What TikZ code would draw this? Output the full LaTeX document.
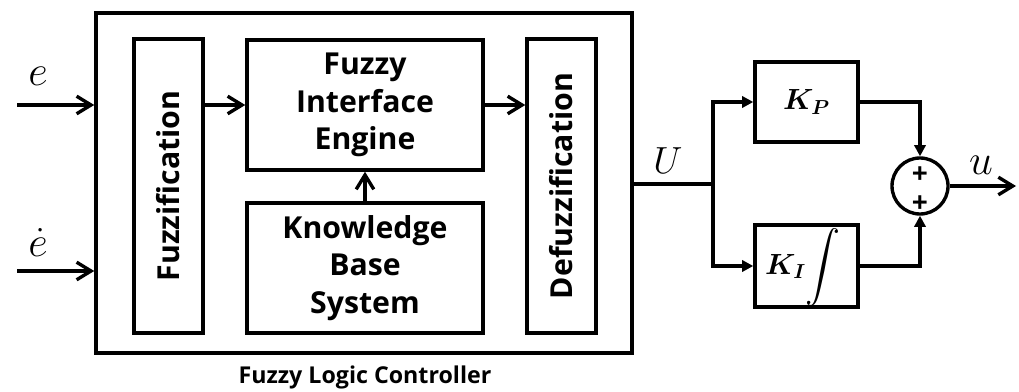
\documentclass[tikz,border=0pt]{standalone}
\usepackage{fontspec}
\usepackage{amsmath,bm}
\setsansfont{Open Sans}
\usetikzlibrary{arrows.meta,positioning}

\newcommand{\sigvar}[1]{\scalebox{1.22}{$#1$}}

\tikzset{
  block/.style={draw, line width=2.4pt, align=center, inner sep=0pt,
    font=\sffamily\bfseries\fontsize{21.5}{26.8}\selectfont},
  gain/.style={draw, line width=2.4pt, minimum width=2.575cm, minimum height=2cm},
  sumnode/.style={draw, circle, line width=2.4pt, minimum size=1.4cm},
  signal/.style={line width=2.4pt, -{Straight Barb[length=3.6mm, width=4.4mm]}},
  feed/.style={line width=2.4pt, -{Triangle[length=2.8mm, width=2.8mm]}},
  var/.style={font=\fontsize{24}{24}\selectfont},
  plus/.style={font=\sffamily\bfseries\fontsize{20}{20}\selectfont, inner sep=0pt}
}

\begin{document}
\begin{tikzpicture}[x=0.025cm, y=-0.025cm]
    \useasboundingbox (0,0) rectangle (1019,392);

    % controller
    \node[draw, line width=2.4pt, minimum width=13.4cm, minimum height=8.5cm] (flc) at (364,183) {};
    \node[font=\sffamily\bfseries\fontsize{16.5}{18}\selectfont] (flclabel) at (365,377) {Fuzzy Logic Controller};

    \node[block, minimum width=1.725cm, minimum height=7.35cm] (fuzz) at (168.5,186) {\rotatebox{90}{Fuzzification}};
    \node[block, minimum width=5.9cm, minimum height=3.25cm] (fie) at (365,105) {Fuzzy\\Interface\\Engine};
    \node[block, minimum width=5.9cm, minimum height=3.25cm] (kb) at (365,268) {Knowledge\\Base\\System};
    \node[block, minimum width=1.725cm, minimum height=7.35cm] (defuzz) at (561.5,186) {\rotatebox{90}{Defuzzification}};

    % inputs
    \coordinate (ein) at (17,105);
    \coordinate (edin) at (17,271);
    \node[var] (elabel) at (38,76) {\sigvar{e}};
    \node[var] (edlabel) at (38,243) {\sigvar{\dot{e}}};
    \draw[signal] (ein) -- (ein -| flc.west);
    \draw[signal] (edin) -- (edin -| flc.west);

    \draw[signal] (fuzz.east |- fie.west) -- (fie.west);
    \draw[signal] (fie.east) -- (fie.east -| defuzz.west);
    \draw[signal] (kb.north) -- (fie.south);

    % PI part
    \node[gain] (kp) at (806.5,102) {\fontsize{22}{22}\selectfont$\bm{K_P}$};
    \node[gain, minimum height=2.05cm] (ki) at (806.5,266) {};
    \node (kilabel) at (803,267) {\fontsize{22}{22}\selectfont$\bm{K_I}$\raisebox{-1pt}{\fontsize{24.88}{25}\selectfont$\displaystyle\int$}};
    \node[sumnode] (sum) at (920,186) {};
    \node[plus] (plusa) at (920,175) {+};
    \node[plus] (plusb) at (920,204) {+};

    \coordinate (split) at (713,184);
    \coordinate (uout) at (1016,186);
    \node[var] (Ulabel) at (668,161) {\scalebox{1.08}{$U$}};
    \node[var] (ulabel) at (981,165) {\sigvar{u}};

    \draw[line width=2.4pt] (flc.east |- split) -- (split);
    \draw[feed] (split) |- (kp.west);
    \draw[feed] (split) |- (ki.west);
    \draw[feed] (kp.east) -| (sum.north);
    \draw[feed] (ki.east) -| (sum.south);
    \draw[signal] (sum.east) -- (uout);

\end{tikzpicture}
\end{document}
